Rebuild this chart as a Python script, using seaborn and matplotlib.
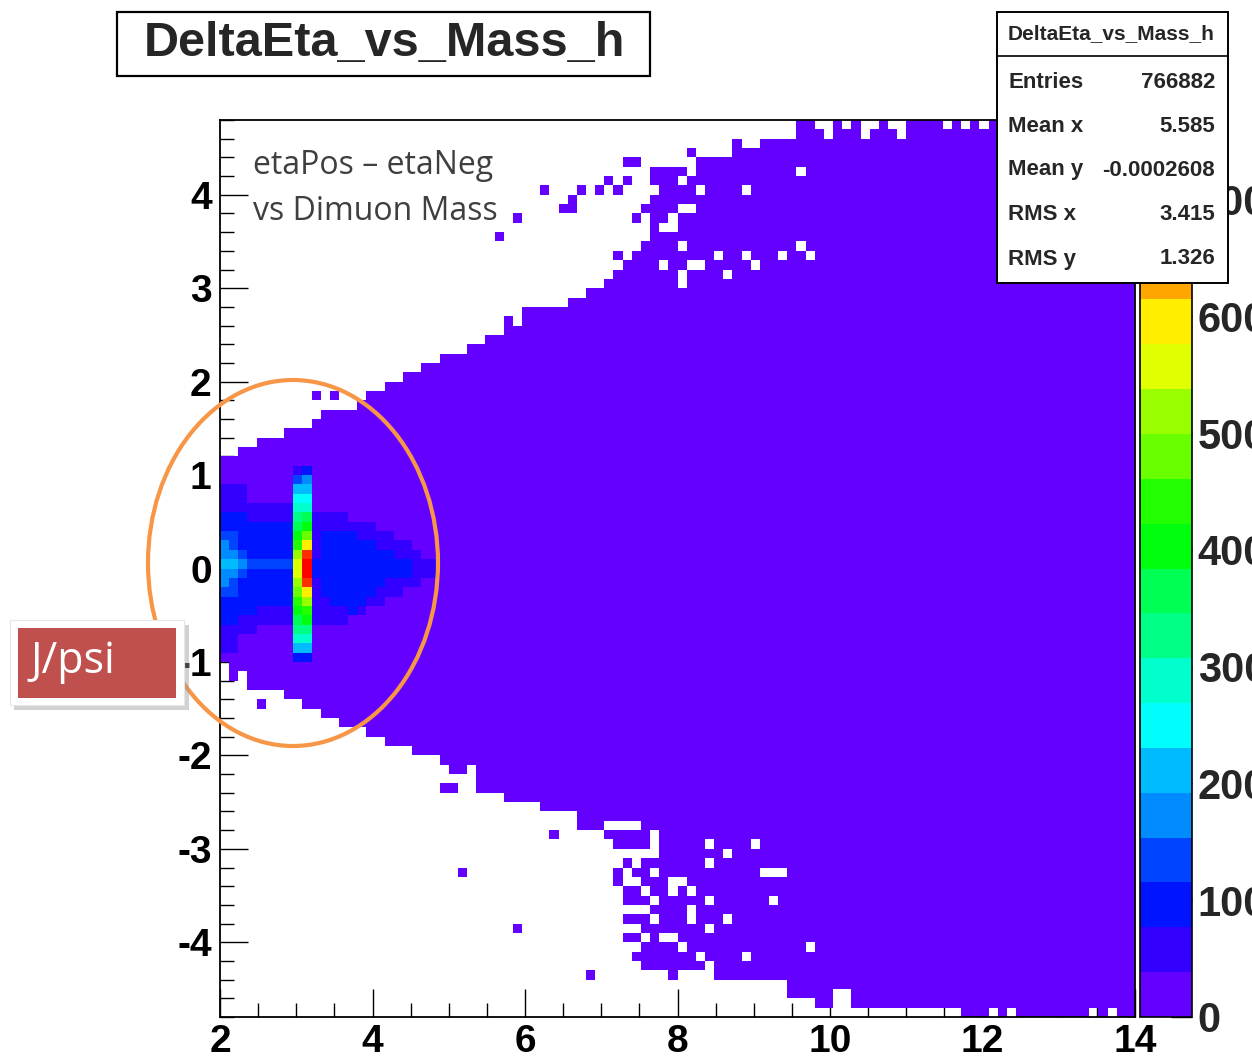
import colorsys

import numpy as np
import pandas as pd
import matplotlib
matplotlib.use("Agg")
import matplotlib.pyplot as plt
from matplotlib.colors import ListedColormap
from matplotlib.patches import Rectangle, Ellipse
import seaborn as sns

# ---------------------------------------------------------------- binning
MASS_LO, MASS_HI, N_MASS = 2.0, 14.0, 100     # dimuon mass axis
ETA_LO, ETA_HI, N_ETA = -4.8, 4.8, 96         # etaPos - etaNeg axis
Z_MAX = 768                                   # top of the colour scale
BODY_COUNT = 12                               # typical occupancy of the bulk

# top / bottom of the populated band for every mass bin (eta units)
upper_edge = [
    1.2, 1.2, 1.3, 1.3, 1.4, 1.4, 1.4, 1.5, 1.5, 1.5,
    1.6, 1.7, 1.7, 1.7, 1.8, 1.8, 1.9, 1.9, 2.0, 2.0,
    2.1, 2.1, 2.2, 2.2, 2.3, 2.3, 2.3, 2.4, 2.4, 2.5,
    2.5, 2.7, 2.6, 2.8, 2.8, 2.8, 2.8, 2.8, 2.9, 2.9,
    3.0, 3.0, 3.1, 3.2, 3.3, 3.4, 3.5, 4.3, 4.3, 4.3,
    4.1, 4.2, 4.4, 4.4, 4.4, 4.4, 4.6, 4.5, 4.5, 4.6,
    4.6, 4.6, 4.6, 4.7, 4.7, 4.7, 4.7, 4.7, 4.7, 4.7,
    4.7, 4.7, 4.7, 4.7, 4.7, 4.7, 4.8, 4.8, 4.8, 4.8,
    4.8, 4.8, 4.8, 4.8, 4.8, 4.8, 4.8, 4.8, 4.8, 4.8,
    4.8, 4.8, 4.8, 4.8, 4.8, 4.8, 4.8, 4.8, 4.8, 4.8,
]
lower_edge = [
    -1.0, -1.2, -1.1, -1.3, -1.3, -1.3, -1.3, -1.4, -1.4, -1.5,
    -1.5, -1.6, -1.6, -1.7, -1.7, -1.7, -1.8, -1.8, -1.9, -1.9,
    -1.9, -2.0, -2.0, -2.0, -2.1, -2.2, -2.2, -2.1, -2.4, -2.4,
    -2.4, -2.5, -2.5, -2.5, -2.5, -2.6, -2.6, -2.6, -2.6, -2.8,
    -2.8, -2.8, -2.9, -3.0, -3.0, -4.2, -4.3, -4.3, -4.3, -4.3,
    -4.3, -4.3, -4.3, -4.3, -4.4, -4.4, -4.4, -4.4, -4.4, -4.4,
    -4.4, -4.4, -4.6, -4.6, -4.6, -4.7, -4.7, -4.5, -4.5, -4.7,
    -4.7, -4.7, -4.7, -4.7, -4.7, -4.7, -4.7, -4.7, -4.7, -4.7,
    -4.7, -4.8, -4.8, -4.8, -4.8, -4.8, -4.8, -4.8, -4.8, -4.8,
    -4.8, -4.8, -4.8, -4.8, -4.8, -4.8, -4.8, -4.8, -4.8, -4.8,
]

# isolated populated bins outside the band (mass, deltaEta)
stray_cells = [
    (3.26, 1.85), (3.50, 1.85), (5.66, 3.55), (5.90, 3.75), (6.26, 4.05),
    (6.50, 3.85), (6.62, 3.85), (6.62, 3.95), (6.74, 4.05), (6.98, 4.05),
    (7.10, 4.15), (7.22, 4.05), (7.34, 4.15), (7.34, 4.35), (7.46, 4.35),
    (7.22, 3.35), (7.46, 3.75), (7.58, 3.85), (8.06, 4.25), (8.18, 4.45),
    (9.62, 4.75), (9.74, 4.75), (10.10, 4.75), (10.34, 4.75), (10.70, 4.75),
    (11.06, 4.75),
    (2.54, -1.45), (4.94, -2.35), (5.06, -2.35), (5.18, -3.25), (5.90, -3.85),
    (6.38, -2.85), (6.86, -4.35), (7.94, -4.35), (7.22, -3.35), (7.22, -3.25),
    (7.34, -3.15), (7.34, -3.45), (7.34, -3.55), (7.34, -3.75), (7.34, -3.95),
]

# empty bins inside the band (mass, deltaEta)
empty_cells = [
    (3.74, 1.75), (7.94, 3.65), (7.94, 3.75), (8.06, 3.85), (8.30, 4.05),
    (8.06, 3.45), (8.54, 3.35), (8.66, 3.15), (8.90, 3.35), (9.02, 3.25),
    (9.38, 3.35), (9.62, 3.45), (9.74, 3.35), (8.90, 4.05), (9.62, 4.25),
    (8.18, 3.25), (8.30, 3.25), (7.82, 3.25), (8.06, 3.15), (8.06, 3.05),
    (7.70, 4.05), (7.82, 3.65), (8.18, 3.85),
    (9.98, 4.65), (10.46, 4.65), (10.94, 4.65), (11.54, 4.75), (11.78, 4.75),
    (12.02, 4.75),
    (7.10, -2.75), (7.22, -2.75), (7.34, -2.75), (7.46, -2.75),
    (7.46, -3.05), (7.46, -3.15), (7.46, -3.35), (7.46, -3.65), (7.46, -3.85),
    (7.46, -4.05), (7.58, -3.05), (7.58, -3.45), (7.58, -3.65), (7.58, -3.95),
    (7.70, -2.85), (7.70, -2.95), (7.70, -3.05), (7.70, -3.25), (7.70, -3.55),
    (7.70, -3.75), (7.82, -3.95), (7.94, -3.95), (7.94, -3.35), (8.06, -3.35),
    (7.94, -3.45), (8.18, -3.45), (8.18, -3.75), (8.18, -3.65), (8.06, -4.05),
    (8.30, -4.15), (8.42, -4.25), (8.42, -2.95), (8.42, -3.15), (8.66, -3.05),
    (9.02, -2.95), (9.14, -3.25), (9.26, -3.25), (9.38, -3.25), (9.26, -3.55),
    (8.42, -3.55), (8.66, -3.75), (8.42, -3.85), (8.90, -4.15), (9.74, -4.05),
    (12.14, -4.75), (12.38, -4.75), (13.46, -4.75), (13.70, -4.75),
]

# colour-band level (0-19, base 20 digits) of the low-mass corner:
# mass bins 0-23 (2.00 - 4.88), deltaEta rows from 1.15 down to -1.15
JPSI_FIRST_ETA_ROW = 59
jpsi_levels = [
    "000000000000000000000000",
    "000000001200000000000000",
    "000000003400000000000000",
    "111000005500000000000000",
    "111000006600000000000000",
    "111111117700000000000000",
    "222111118911110000000000",
    "222222229a11111110000000",
    "33222222ac12222111100000",
    "43222222bf12222221111000",
    "44322222di12222222211100",
    "55433333ej22222222222111",
    "44322222ej22222222222111",
    "43222222di12222222111100",
    "33222222cf12222221110000",
    "22222222bd11222211000000",
    "22221111ab11112100000000",
    "221111119a11110000000000",
    "111100008800000000000000",
    "110000007700000000000000",
    "110000005500000000000000",
    "000000002200000000000000",
    "000000000000000000000000",
    "000000000000000000000000",
]

# ------------------------------------------------------------ build counts
mass_bin = (MASS_HI - MASS_LO) / N_MASS
eta_bin = (ETA_HI - ETA_LO) / N_ETA
band_width = Z_MAX / 20.0

counts = np.zeros((N_MASS, N_ETA))
for c in range(N_MASS):
    r_lo = int(round((lower_edge[c] - ETA_LO) / eta_bin))
    r_hi = int(round((upper_edge[c] - ETA_LO) / eta_bin))
    counts[c, r_lo:r_hi] = BODY_COUNT

for i, row in enumerate(jpsi_levels):
    r = JPSI_FIRST_ETA_ROW - i
    for c, ch in enumerate(row):
        lvl = int(ch, 20)
        if lvl > 0:
            counts[c, r] = (lvl + 0.5) * band_width


def cell(m, e):
    return int((m - MASS_LO) / mass_bin), int((e - ETA_LO) / eta_bin)


for m, e in stray_cells:
    counts[cell(m, e)] = BODY_COUNT
for m, e in empty_cells:
    counts[cell(m, e)] = 0

grid = pd.DataFrame(counts.T[::-1])          # first row = highest deltaEta

# ROOT "pretty" palette: 50 hues violet -> red, sampled for 20 contours
band_colors = []
for i in range(20):
    idx = int((i + 0.99) * 50 / 20)
    hue = 280.0 - (idx + 1) * 280.0 / 50
    band_colors.append(colorsys.hls_to_rgb(hue / 360.0, 0.5, 1.0))
root_cmap = ListedColormap(band_colors)

# ------------------------------------------------------------------ figure
sns.set_theme(style="white")
plt.rcParams["font.family"] = ["Liberation Sans", "DejaVu Sans"]

W, H = 1252, 1060
fig = plt.figure(figsize=(W / 100, H / 100), dpi=100)


def fx(px):
    return px / W


def fy(py):
    return 1 - py / H


def px_rect(x0, y0, x1, y1, **kw):
    return Rectangle((fx(x0), fy(y1)), fx(x1) - fx(x0), fy(y0) - fy(y1),
                     transform=fig.transFigure, **kw)


ax = fig.add_axes([fx(220), fy(1017), fx(1135) - fx(220), fy(120) - fy(1017)])
cax = fig.add_axes([fx(1140), fy(1017), fx(1192) - fx(1140), fy(120) - fy(1017)])

sns.heatmap(grid, ax=ax, cbar_ax=cax, cmap=root_cmap, vmin=0, vmax=Z_MAX,
            mask=(grid.values == 0), xticklabels=False, yticklabels=False,
            linewidths=0)

# axes frame
for s in ax.spines.values():
    s.set_visible(True)
    s.set_color("black")
    s.set_linewidth(1.3)

tick_font = dict(fontsize=28, fontweight="bold", color="black")

mass_major = np.arange(2, 15, 2)
mass_minor = np.arange(2, 14.01, 0.5)
ax.set_xticks((mass_major - MASS_LO) / mass_bin)
ax.set_xticklabels([f"{v:d}" for v in mass_major], **tick_font)
ax.set_xticks((mass_minor - MASS_LO) / mass_bin, minor=True)

eta_major = np.arange(4, -5, -1)
eta_minor = np.arange(-4.8, 4.81, 0.2)
ax.set_yticks((ETA_HI - eta_major) / eta_bin)
ax.set_yticklabels([f"{v:d}" for v in eta_major], rotation=0, **tick_font)
ax.set_yticks((ETA_HI - eta_minor) / eta_bin, minor=True)

ax.tick_params(axis="both", which="both", direction="in", color="black",
               width=1.0, bottom=True, left=True, top=False, right=False)
ax.tick_params(axis="both", which="major", length=20)
ax.tick_params(axis="both", which="minor", length=10)
ax.tick_params(axis="x", which="major", pad=5)
ax.tick_params(axis="y", which="major", pad=6)

# colour scale
cb = ax.collections[0].colorbar
cb.outline.set_visible(True)
cb.outline.set_edgecolor("black")
cb.outline.set_linewidth(1.2)
cb.set_ticks(np.arange(0, 701, 100))
cb.set_ticklabels([f"{v:d}" for v in range(0, 701, 100)])
cax.yaxis.set_ticks_position("right")
cax.tick_params(axis="y", which="major", direction="in", length=15,
                width=1.0, color="black", pad=4, right=True, labelsize=30)
for lab in cax.get_yticklabels():
    lab.set_fontweight("bold")
cax.minorticks_off()

# --------------------------------------------------------------- title box
fig.add_artist(px_rect(117, 12, 650, 76, facecolor="white",
                       edgecolor="black", linewidth=1.6, zorder=10))
fig.text(fx(384), fy(44), "DeltaEta_vs_Mass_h", ha="center", va="center",
         fontsize=35, fontweight="bold", zorder=11)

# --------------------------------------------------------------- stats box
fig.add_artist(px_rect(997, 12, 1228, 283, facecolor="white",
                       edgecolor="black", linewidth=1.4, zorder=10))
fig.add_artist(plt.Line2D([fx(997), fx(1228)], [fy(56), fy(56)],
                          transform=fig.transFigure, color="black",
                          linewidth=1.2, zorder=11))
fig.text(fx(1111), fy(34), "DeltaEta_vs_Mass_h", ha="center", va="center",
         fontsize=15, fontweight="bold", zorder=11)
stat_names = ["Entries", "Mean x", "Mean y", "RMS x", "RMS y"]
stat_values = ["766882", "5.585", "-0.0002608", "3.415", "1.326"]
stat_rows_px = [82, 126, 170, 214, 259]
for name, val, ypx in zip(stat_names, stat_values, stat_rows_px):
    fig.text(fx(1008), fy(ypx), name, ha="left", va="center",
             fontsize=16, fontweight="bold", zorder=11)
    fig.text(fx(1215), fy(ypx), val, ha="right", va="center",
             fontsize=16, fontweight="bold", zorder=11)

# ------------------------------------------------------------- annotations
note_font = dict(fontsize=23, color="#3f3f3f", family=["Open Sans", "DejaVu Sans"])
fig.text(fx(253), fy(166), "etaPos \u2013 etaNeg", ha="left", va="center",
         zorder=11, **note_font)
fig.text(fx(253), fy(212), "vs Dimuon Mass", ha="left", va="center",
         zorder=11, **note_font)

fig.add_artist(Ellipse((fx(293), fy(563)), fx(290), 366 / H,
                       transform=fig.transFigure, facecolor="none",
                       edgecolor="#F79646", linewidth=3.0, zorder=12))

fig.add_artist(px_rect(14, 625, 189, 710, facecolor="#9a9a9a", alpha=0.45,
                       edgecolor="none", zorder=13))
fig.add_artist(px_rect(10, 620, 184, 705, facecolor="white",
                       edgecolor="#e6e6e6", linewidth=0.8, zorder=14))
fig.add_artist(px_rect(18, 628, 176, 698, facecolor="#C0504D",
                       edgecolor="none", zorder=15))
fig.text(fx(30), fy(662), "J/psi", ha="left", va="center", fontsize=31,
         color="white", family=["Open Sans", "DejaVu Sans"], zorder=16)

fig.savefig("out.png", dpi=100)
